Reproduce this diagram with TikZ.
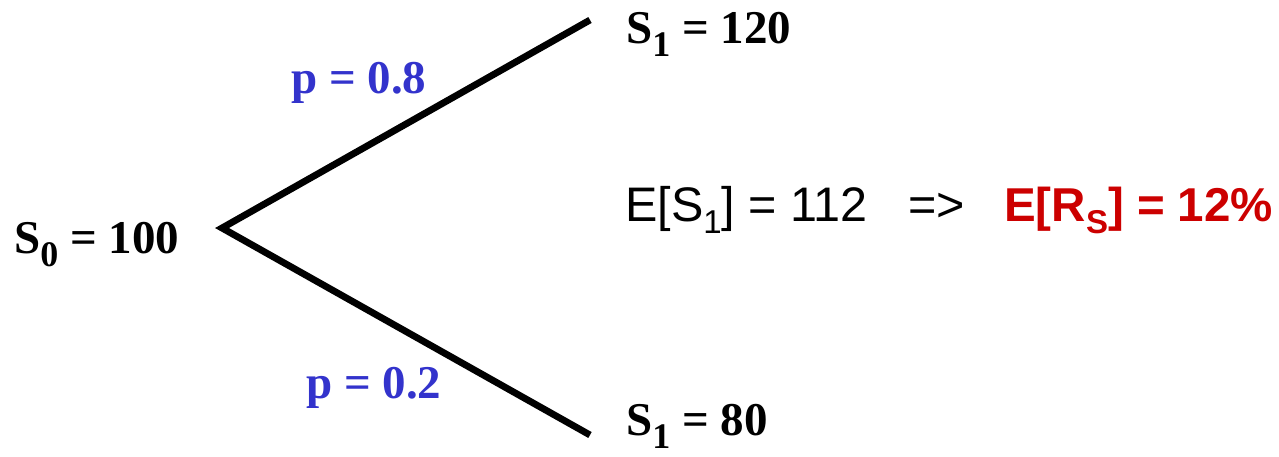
\documentclass[tikz,border=0pt]{standalone}
\usepackage{fontspec}
\setmainfont{Liberation Serif}
\setsansfont{Liberation Sans}
\definecolor{pblue}{RGB}{51,51,204}
\definecolor{ered}{RGB}{204,0,0}
\newcommand{\tsub}[1]{\raisebox{-13pt}{\fontsize{36}{36}\selectfont #1}}
\newcommand{\asub}[1]{\raisebox{-12pt}{\fontsize{33}{33}\selectfont #1}}
\tikzset{
  lbl/.style={inner sep=0pt, anchor=base west, font=\fontsize{47}{50}\selectfont\bfseries},
  plbl/.style={lbl, text=pblue},
  rtxt/.style={inner sep=0pt, anchor=base west, font=\fontsize{48.5}{50}\selectfont\sffamily},
  branch/.style={line width=6.8pt, line cap=butt, line join=miter}
}
\begin{document}
\begin{tikzpicture}[x=1pt,y=-1pt]
\useasboundingbox (0,0) rectangle (1279,456);
\coordinate (root) at (222,228);
\coordinate (up) at (590,20);
\coordinate (dn) at (590,435);
\draw[branch] (up) -- (root) -- (dn);
\node[lbl] (s0) at (14,253) {S\tsub{0} = 100};
\node[lbl] (s1u) at (626,43) {S\tsub{1} = 120};
\node[lbl] (s1d) at (626,435) {S\tsub{1} = 80};
\node[plbl] (pu) at (291,93) {p = 0.8};
\node[plbl] (pd) at (306,398) {p = 0.2};
\node[rtxt] (es) at (625,221) {E[S\asub{1}] = 112};
\node[rtxt] (imp) at (908,221) {=>};
\node[rtxt, text=ered, font=\fontsize{47.5}{50}\selectfont\sffamily\bfseries] (er) at (1004,221) {E[R\asub{S}] = 12\%};
\end{tikzpicture}
\end{document}
